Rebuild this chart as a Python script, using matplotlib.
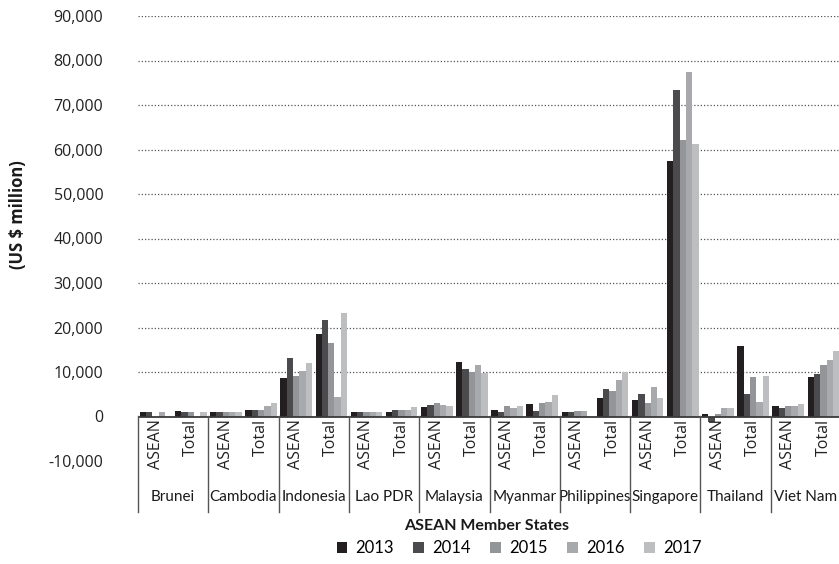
import matplotlib
matplotlib.use('Agg')
import matplotlib.pyplot as plt
from matplotlib.lines import Line2D
from matplotlib.patches import Patch
import matplotlib.transforms as mtransforms

countries = ['Brunei', 'Cambodia', 'Indonesia', 'Lao PDR', 'Malaysia',
             'Myanmar', 'Philippines', 'Singapore', 'Thailand', 'Viet Nam']
flows = ['ASEAN', 'Total']
years = ['2013', '2014', '2015', '2016', '2017']
colors = ['#231f20', '#4b4b4d', '#939598', '#a7a9ac', '#bcbec0']

# Values per year, one entry per country (US$ million)
asean_2013 = [900, 900, 8700, 1000, 2200, 1500, 900, 3700, 500, 2300]
asean_2014 = [900, 900, 13200, 1000, 2600, 1000, 900, 5000, -1200, 1900]
asean_2015 = [0, 900, 9100, 1000, 3100, 2400, 1200, 3000, 500, 2300]
asean_2016 = [900, 900, 10200, 1000, 2600, 1900, 1200, 6600, 1900, 2300]
asean_2017 = [0, 900, 12100, 1000, 2400, 2400, 0, 4100, 1900, 2800]

total_2013 = [1200, 1400, 18600, 1000, 12300, 2800, 4200, 57500, 15800, 8800]
total_2014 = [900, 1400, 21700, 1500, 10700, 1300, 6200, 73300, 5000, 9500]
total_2015 = [900, 1400, 16600, 1500, 10000, 3100, 5800, 62200, 8800, 11500]
total_2016 = [0, 2300, 4400, 1500, 11600, 3300, 8200, 77400, 3200, 12700]
total_2017 = [900, 3000, 23300, 2200, 9800, 4900, 10000, 61300, 9100, 14700]

asean = [asean_2013, asean_2014, asean_2015, asean_2016, asean_2017]
total = [total_2013, total_2014, total_2015, total_2016, total_2017]

W, H = 839, 564
fig = plt.figure(figsize=(W / 100, H / 100), dpi=100)
ax = fig.add_axes([138 / W, 1 - 461 / H, 703 / W, (461 - 16) / H])
ax.set_xlim(0, 20)
ax.set_ylim(-10000, 90000)

# gridlines
for g in range(10000, 90001, 10000):
    ax.axhline(g, color='#555555', lw=0.9, ls=(0, (1, 1.6)), zorder=0)

bw = 0.9 / 5
for k in range(5):
    for c in range(len(countries)):
        for f, vals in enumerate([asean, total]):
            xc = 2 * c + f + 0.5 + (k - 2) * bw
            ax.bar(xc, vals[k][c], width=bw, color=colors[k], zorder=2,
                   linewidth=0)

ax.axhline(0, color='#3a3a3a', lw=1.3, zorder=3)

for s in ax.spines.values():
    s.set_visible(False)
ax.set_xticks([])
yt = list(range(-10000, 90001, 10000))
ax.set_yticks(yt)
ax.set_yticklabels([f'{v:,}' for v in yt], fontsize=11.5, family='Open Sans',
                   color='#222222')
ax.tick_params(axis='y', length=0, pad=25)

# category labels
trans = mtransforms.blended_transform_factory(ax.transData, fig.transFigure)
for c, name in enumerate(countries):
    for f, fl in enumerate(flows):
        ax.text(2 * c + f + 0.5, 1 - 419 / H, fl, rotation=90, ha='center',
                va='top', fontsize=11.5, family='Open Sans', color='#222222',
                transform=trans)
    ax.text(2 * c + 1, 1 - 497 / H, name, ha='center', va='center',
            fontsize=11, family='Lato', color='#1a1a1a', transform=trans)
for b in range(0, 21, 2):
    ln = Line2D([b, b], [1 - 416 / H, 1 - 512 / H], color='#555555', lw=1,
                transform=trans, clip_on=False)
    fig.add_artist(ln)

fig.text(487 / W, 1 - 526 / H, 'ASEAN Member States', ha='center',
         va='center', fontsize=11.5, fontweight='bold', family='Lato',
         color='#1a1a1a')
fig.text(18 / W, 1 - 215 / H, '(US $ million)', rotation=90, ha='center',
         va='center', fontsize=12, fontweight='bold', family='Open Sans',
         color='#1a1a1a')

handles = [Patch(facecolor=colors[k], edgecolor='none') for k in range(5)]
fig.legend(handles, years, loc='center', bbox_to_anchor=(519 / W, 1 - 548 / H),
           ncol=5, frameon=False, handlelength=0.65, handleheight=0.65,
           handletextpad=0.5, columnspacing=1.15,
           prop={'family': 'Lato', 'size': 12})

fig.savefig('out.png', dpi=100)
